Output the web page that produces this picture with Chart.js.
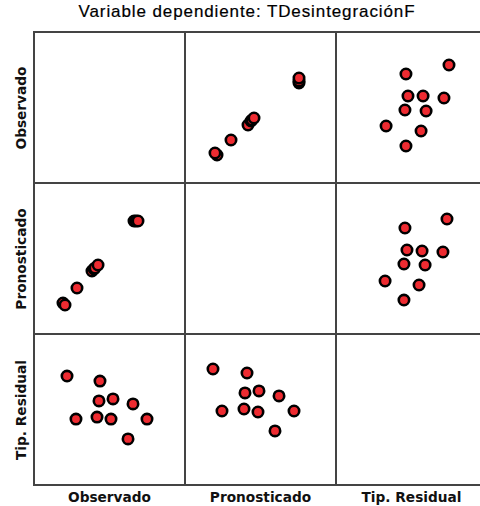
<!DOCTYPE html>
<html>
<head>
<meta charset="utf-8">
<script src="https://cdn.jsdelivr.net/npm/chart.js@4/dist/chart.umd.min.js"></script>
<style>
  html, body { margin: 0; padding: 0; background: #fff; }
  #wrap { position: relative; width: 480px; height: 506px; overflow: hidden; }
  .cell { position: absolute; }
  .hline, .vline { position: absolute; background: #444; z-index: 5; }
  .title { position: absolute; left: 0; width: 494px; top: 2px; text-align: center;
           font-family: "Liberation Sans", Arial, sans-serif; font-size: 17px; letter-spacing: 0.9px; color: #000;
           -webkit-text-stroke: 0.2px #000; white-space: nowrap; }
  .xlab { position: absolute; width: 151px; text-align: center; top: 489px;
          font-family: "DejaVu Sans", Verdana, sans-serif; font-weight: bold; font-size: 13.7px; color: #111; white-space: nowrap; }
  .ylab { position: absolute; width: 151px; height: 18px; line-height: 18px; text-align: center;
          font-family: "DejaVu Sans", Verdana, sans-serif; font-weight: bold; font-size: 13.7px; color: #111;
          transform: rotate(-90deg); white-space: nowrap; }
</style>
</head>
<body>
<div id="wrap">
  <div class="title">Variable dependiente: TDesintegraciónF</div>
</div>
<script>
// Variables of the matrix (rows top to bottom, columns left to right)
const variables = ['Observado', 'Pronosticado', 'Tip. Residual'];
const ranges = { 'Observado': [0, 30], 'Pronosticado': [0, 30], 'Tip. Residual': [-3, 3] };

// Row 1: Observado against Pronosticado / Tip. Residual
const obsVsPred_x = [6.36, 5.96, 9.14, 12.52, 13.11, 13.31, 13.71, 22.65, 22.65, 22.65];
const obsVsPred_y = [5.56, 5.96, 8.54, 11.52, 12.32, 12.52, 12.91, 19.87, 20.26, 20.86];
const obsVsRes_x = [-0.22, 1.49, -0.14, 0.46, 1.29, -0.26, 0.58, -1.01, 0.38, -0.22];
const obsVsRes_y = [21.66, 23.44, 17.28, 17.28, 16.89, 14.50, 14.30, 11.32, 10.33, 7.35];

// Row 2: Pronosticado against Observado / Tip. Residual
const predVsObs_x = [5.76, 6.16, 8.54, 11.52, 11.92, 12.12, 12.72, 19.87, 20.26, 20.66];
const predVsObs_y = [6.16, 5.76, 9.14, 12.52, 12.91, 13.11, 13.71, 22.45, 22.45, 22.45];
const predVsRes_x = [-0.26, 1.41, -0.18, 0.42, 1.25, -0.30, 0.54, -1.05, 0.30, -0.30];
const predVsRes_y = [21.06, 22.85, 16.69, 16.49, 16.29, 13.91, 13.71, 10.53, 9.74, 6.75];

// Row 3: Tip. Residual against Observado / Pronosticado
const resVsObs_x = [6.56, 13.11, 12.91, 15.70, 19.67, 8.34, 12.52, 15.30, 22.45, 18.68];
const resVsObs_y = [1.33, 1.13, 0.34, 0.42, 0.22, -0.38, -0.30, -0.38, -0.38, -1.17];
const resVsPred_x = [5.56, 12.32, 11.92, 14.70, 18.68, 7.35, 11.72, 14.50, 21.66, 17.88];
const resVsPred_y = [1.61, 1.45, 0.66, 0.74, 0.54, -0.06, 0.02, -0.10, -0.06, -0.85];

const panels = {
  '0,1': [obsVsPred_x, obsVsPred_y],
  '0,2': [obsVsRes_x, obsVsRes_y],
  '1,0': [predVsObs_x, predVsObs_y],
  '1,2': [predVsRes_x, predVsRes_y],
  '2,0': [resVsObs_x, resVsObs_y],
  '2,1': [resVsPred_x, resVsPred_y]
};

// Matrix geometry
const X0 = 34, Y0 = 32, SIZE = 151, N = 3;
const wrap = document.getElementById('wrap');

function addLine(cls, left, top, w, h) {
  const d = document.createElement('div');
  d.className = cls;
  Object.assign(d.style, { left: left + 'px', top: top + 'px', width: w + 'px', height: h + 'px' });
  wrap.appendChild(d);
}

for (let r = 0; r < N; r++) {
  for (let c = 0; c < N; c++) {
    const key = r + ',' + c;
    if (!panels[key]) continue;
    const [xs, ys] = panels[key];
    const canvas = document.createElement('canvas');
    canvas.className = 'cell';
    canvas.width = SIZE; canvas.height = SIZE;
    canvas.style.left = (X0 + c * SIZE) + 'px';
    canvas.style.top = (Y0 + r * SIZE) + 'px';
    wrap.appendChild(canvas);
    const xr = ranges[variables[c]], yr = ranges[variables[r]];
    new Chart(canvas, {
      type: 'scatter',
      data: {
        datasets: [{
          data: xs.map((x, i) => ({ x: x, y: ys[i] })),
          pointRadius: 5.2,
          pointHoverRadius: 5.2,
          borderWidth: 2.6,
          backgroundColor: '#ee2b31',
          borderColor: '#000000',
          clip: false
        }]
      },
      options: {
        responsive: false,
        animation: false,
        events: [],
        layout: { padding: 0, autoPadding: false },
        plugins: { legend: { display: false }, tooltip: { enabled: false }, title: { display: false } },
        scales: {
          x: { type: 'linear', display: false, min: xr[0], max: xr[1] },
          y: { type: 'linear', display: false, min: yr[0], max: yr[1] }
        }
      }
    });
  }
}

// Frame and dividers of the matrix
for (let i = 0; i <= N; i++) {
  addLine('vline', X0 + i * SIZE - 1, Y0 - 1, 2, N * SIZE + 2);
  addLine('hline', X0 - 1, Y0 + i * SIZE - 1, N * SIZE + 2, 2);
}

// Variable names along the bottom and the left side
variables.forEach((name, i) => {
  const xl = document.createElement('div');
  xl.className = 'xlab';
  xl.textContent = name;
  xl.style.left = (X0 + i * SIZE) + 'px';
  wrap.appendChild(xl);

  const yl = document.createElement('div');
  yl.className = 'ylab';
  yl.textContent = name;
  const cy = Y0 + i * SIZE + SIZE / 2;
  yl.style.left = (20 - SIZE / 2) + 'px';
  yl.style.top = (cy - 9) + 'px';
  wrap.appendChild(yl);
});
</script>
</body>
</html>
